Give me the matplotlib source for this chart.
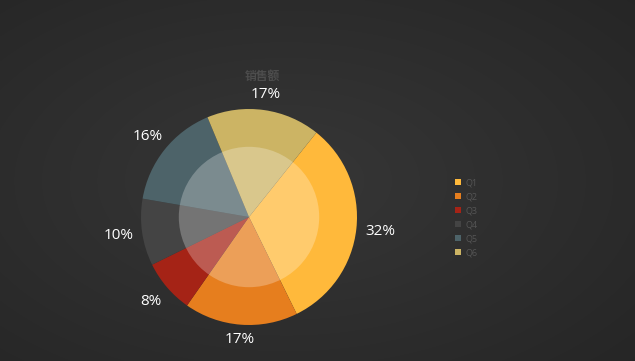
"""Pie chart of quarterly sales share on a dark background."""

import matplotlib

matplotlib.use("Agg")
import matplotlib.pyplot as plt
import numpy as np
from matplotlib.patches import Circle, Patch

QUARTERS = ["Q1", "Q2", "Q3", "Q4", "Q5", "Q6"]
SHARES = [32, 17, 8, 10, 16, 17]
COLORS = ["#FFB93B", "#E67E1E", "#A52316", "#444444", "#4D6369", "#CCB464"]
TITLE = "销售额"

W, H = 635, 361
plt.rcParams["font.family"] = ["Open Sans", "Noto Sans CJK SC", "DejaVu Sans"]

fig = plt.figure(figsize=(W / 100, H / 100), dpi=100)

# background: soft radial gradient
bg = fig.add_axes([0, 0, 1, 1])
yy, xx = np.mgrid[0:H, 0:W]
dist = np.hypot((xx - W * 0.45) / W, (yy - H * 0.5) / H)
shade = 0.215 - 0.09 * dist
bg.imshow(np.dstack([shade] * 3), aspect="auto", extent=[0, 1, 0, 1])
bg.axis("off")

# pie axes placed in pixels: centre (249, 217 from top), radius 108
cx, cy, r = 249, H - 217, 108
ax = fig.add_axes([(cx - r) / W, (cy - r) / H, 2 * r / W, 2 * r / H])
wedges, _, pcts = ax.pie(
    SHARES,
    colors=COLORS,
    startangle=51.4,
    counterclock=False,
    radius=1,
    autopct="%d%%",
    pctdistance=1.19,
    wedgeprops=dict(linewidth=0),
    textprops=dict(color="white", fontsize=11),
)
# labels sit just outside the rim, a bit further out at the sides
for w, t in zip(wedges, pcts):
    mid = np.deg2rad((w.theta1 + w.theta2) / 2)
    d = 1.13 + 0.09 * abs(np.cos(mid))
    t.set_position((d * np.cos(mid), d * np.sin(mid)))
    t.set_clip_on(False)
ax.add_patch(Circle((0, 0), 0.65, color="white", alpha=0.26, lw=0))
ax.set_xlim(-1, 1)
ax.set_ylim(-1, 1)
ax.set_aspect("equal")

fig.text(262 / W, 1 - 76 / H, TITLE, color="#4d4d4d", fontsize=8.5,
         fontweight="bold", ha="center", va="center",
         family=["Noto Sans CJK SC", "DejaVu Sans"])

handles = [Patch(facecolor=c, edgecolor="none") for c in COLORS]
fig.legend(handles, QUARTERS, loc="upper left",
           bbox_to_anchor=(447 / W, 1 - 170 / H), frameon=False,
           fontsize=6.5, labelcolor="#555555", handlelength=0.7,
           handleheight=0.7, handletextpad=0.4, labelspacing=0.56)

fig.savefig("out.png", dpi=100)
